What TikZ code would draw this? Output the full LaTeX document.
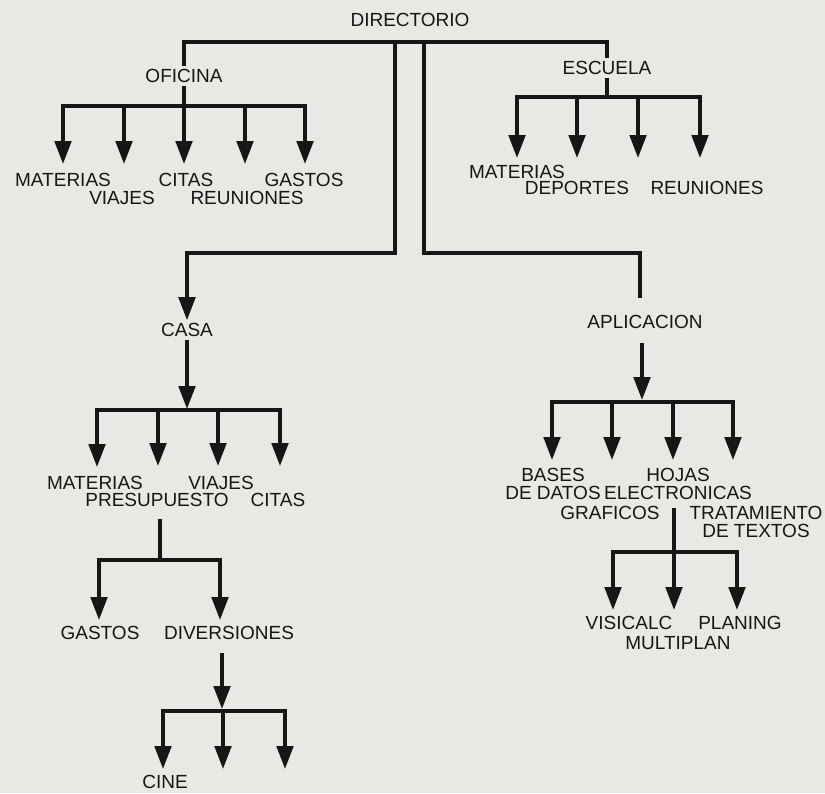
\documentclass[tikz,border=0pt]{standalone}
\usepackage{fontspec}
\setmainfont{Liberation Sans}
\usetikzlibrary{arrows.meta}
\definecolor{paper}{RGB}{232,232,228}
\definecolor{ink}{RGB}{22,22,22}
\begin{document}
\begin{tikzpicture}[x=1pt,y=-1pt,
  base/.style={inner sep=0pt, outer sep=3pt, font=\fontsize{19}{18}\selectfont, text=ink},
  lbl/.style={base, text height=13.6pt, text depth=0pt},
  mlbl/.style={base, align=center},
  wire/.style={draw=ink, line width=3.6pt, line cap=butt, line join=miter},
  arr/.style={wire, -{Triangle[width=16.5pt,length=23pt]}},
  arrtwo/.style={wire, {Triangle[width=16.5pt,length=23pt]}-{Triangle[width=16.5pt,length=23pt]}}]
\fill[paper] (0,0) rectangle (825,793);
\useasboundingbox (0,0) rectangle (825,793);

% ---------- labels ----------
\node[lbl] (dir) at (410,20) {DIRECTORIO};
\node[lbl] (ofi) at (184,76) {OFICINA};
\node[lbl] (esc) at (607,68) {ESCUELA};
\node[lbl] (o1) at (63,180) {MATERIAS};
\node[lbl] (o2) at (122,198) {VIAJES};
\node[lbl] (o3) at (186,180) {CITAS};
\node[lbl] (o4) at (247,198) {REUNIONES};
\node[lbl] (o5) at (304,180) {GASTOS};
\node[lbl] (e1) at (517,172) {MATERIAS};
\node[lbl] (e2) at (577,188) {DEPORTES};
\node[lbl] (e3) at (707,188) {REUNIONES};
\node[lbl] (casa) at (187,330) {CASA};
\node[lbl] (c1) at (95,483) {MATERIAS};
\node[lbl] (c2) at (157,500) {PRESUPUESTO};
\node[lbl] (c3) at (221,483) {VIAJES};
\node[lbl] (c4) at (278,500) {CITAS};
\node[lbl] (gas) at (100,633) {GASTOS};
\node[lbl] (div) at (229,633) {DIVERSIONES};
\node[lbl] (cine) at (165,782) {CINE};
\node[lbl] (apl) at (645,322) {APLICACION};
\node[mlbl] (bd) at (553,483.5) {BASES\\DE DATOS};
\node[mlbl] (he) at (678,483.5) {HOJAS\\ELECTRONICAS};
\node[lbl] (gr) at (610,513) {GRAFICOS};
\node[mlbl] (tt) at (756,522) {TRATAMIENTO\\DE TEXTOS};
\node[lbl] (vc) at (629,623) {VISICALC};
\node[lbl] (pl) at (740,623) {PLANING};
\node[lbl] (mp) at (678,643) {MULTIPLAN};

% ---------- top level ----------
\coordinate (tl) at (184,42);
\coordinate (tr) at (607,42);
\draw[wire] (ofi.north) -- (tl) -- (tr) -- (esc.north);
\coordinate (j1) at (395,42);
\coordinate (j1c) at (395,253);
\draw[arr] (j1) -- (j1c) -| (casa.north);
\coordinate (j2) at (424,42);
\coordinate (j2c) at (424,253);
\coordinate (j2d) at (640,253);
\coordinate (j2e) at (640,298);
\draw[wire] (j2) -- (j2c) -- (j2d) -- (j2e);

% ---------- OFICINA ----------
\coordinate (ob1) at (63,106);  \coordinate (ot1) at (63,164);
\coordinate (ob2) at (124,106); \coordinate (ot2) at (124,164);
\coordinate (ot3) at (184,164);
\coordinate (ob4) at (245,106); \coordinate (ot4) at (245,164);
\coordinate (ob5) at (305,106); \coordinate (ot5) at (305,164);
\draw[arrtwo] (ot1) -- (ob1) -- (ob5) -- (ot5);
\draw[arr] (ob2) -- (ot2);
\draw[arr] (ofi.south) -- (ot3);
\draw[arr] (ob4) -- (ot4);

% ---------- ESCUELA ----------
\coordinate (eb0) at (607,97);
\coordinate (eb1) at (517,97); \coordinate (et1) at (517,158);
\coordinate (eb2) at (577,97); \coordinate (et2) at (577,158);
\coordinate (eb3) at (638,97); \coordinate (et3) at (638,158);
\coordinate (eb4) at (700,97); \coordinate (et4) at (700,158);
\draw[wire] (esc.south) -- (eb0);
\draw[arrtwo] (et1) -- (eb1) -- (eb4) -- (et4);
\draw[arr] (eb2) -- (et2);
\draw[arr] (eb3) -- (et3);

% ---------- CASA ----------
\coordinate (cj) at (187,409);
\draw[arr] (casa.south) -- (cj);
\coordinate (cb1) at (97,410);  \coordinate (ct1) at (97,467);
\coordinate (cb2) at (158,410); \coordinate (ct2) at (158,466);
\coordinate (cb3) at (218,410); \coordinate (ct3) at (218,466);
\coordinate (cb4) at (280,410); \coordinate (ct4) at (280,466);
\draw[arrtwo] (ct1) -- (cb1) -- (cb4) -- (ct4);
\draw[arr] (cb2) -- (ct2);
\draw[arr] (cb3) -- (ct3);

% ---------- PRESUPUESTO ----------
\coordinate (pt0) at (160,519);
\coordinate (pb0) at (160,560);
\coordinate (pb1) at (99,560);  \coordinate (ptg) at (99,620);
\coordinate (pb2) at (220,560); \coordinate (ptd) at (220,620);
\draw[wire] (pt0) -- (pb0);
\draw[arrtwo] (ptg) -- (pb1) -- (pb2) -- (ptd);

% ---------- DIVERSIONES ----------
\coordinate (dt0) at (222,653);
\coordinate (dj) at (222,709);
\draw[arr] (dt0) -- (dj);
\coordinate (db1) at (163,711); \coordinate (dd1) at (163,769);
\coordinate (db2) at (223,711); \coordinate (dd2) at (223,769);
\coordinate (db3) at (285,711); \coordinate (dd3) at (285,769);
\draw[arrtwo] (dd1) -- (db1) -- (db3) -- (dd3);
\draw[arr] (db2) -- (dd2);

% ---------- APLICACION ----------
\coordinate (at0) at (642,343);
\coordinate (aj) at (642,400);
\draw[arr] (at0) -- (aj);
\coordinate (ab1) at (552,402); \coordinate (ad1) at (552,460);
\coordinate (ab2) at (612,402); \coordinate (ad2) at (612,460);
\coordinate (ab3) at (673,402); \coordinate (ad3) at (673,460);
\coordinate (ab4) at (733,402); \coordinate (ad4) at (733,460);
\draw[arrtwo] (ad1) -- (ab1) -- (ab4) -- (ad4);
\draw[arr] (ab2) -- (ad2);
\draw[arr] (ab3) -- (ad3);

% ---------- HOJAS ELECTRONICAS ----------
\coordinate (ht0) at (674,508);
\coordinate (hd2) at (674,610);
\coordinate (hb1) at (613,552); \coordinate (hd1) at (613,610);
\coordinate (hb3) at (737,552); \coordinate (hd3) at (737,610);
\draw[arr] (ht0) -- (hd2);
\draw[arrtwo] (hd1) -- (hb1) -- (hb3) -- (hd3);
\end{tikzpicture}
\end{document}
